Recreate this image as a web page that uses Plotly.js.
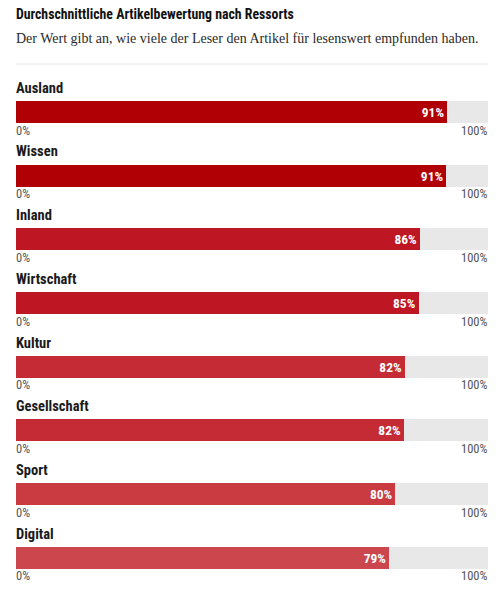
<!DOCTYPE html>
<html>
<head>
<meta charset="utf-8">
<script src="https://cdn.plot.ly/plotly-3.0.1.min.js"></script>
<style>
html,body{margin:0;padding:0;background:#fff;}
#chart{width:500px;height:599px;}
</style>
</head>
<body>
<div id="chart"></div>
<script>
const categories = ['Ausland','Wissen','Inland','Wirtschaft','Kultur','Gesellschaft','Sport','Digital'];
const values = [91.4, 91.2, 85.6, 85.3, 82.4, 82.2, 80.4, 79.1];
const barColors = ['#b10005','#b10005','#be1622','#be1622','#c52b35','#c52b35','#c93a41','#cc474d'];
const tickValues = [0, 100];
const tickLabels = ['0%', '100%'];
const maxValue = 100;

const titleText = 'Durchschnittliche Artikelbewertung nach Ressorts';
const subtitleText = 'Der Wert gibt an, wie viele der Leser den Artikel für lesenswert empfunden haben.';

const idx = categories.map((c, i) => i);
const cond = '"Roboto Condensed", "DejaVu Sans Condensed", sans-serif';
const barW = 0.345;
const py = p => (596 - p) / 516;

const track = {
  type: 'bar', orientation: 'h',
  x: categories.map(() => maxValue), y: idx,
  width: barW,
  marker: {color: '#e8e8e8', line: {width: 0}},
  hoverinfo: 'skip', showlegend: false
};
const bars = {
  type: 'bar', orientation: 'h',
  x: values, y: idx,
  width: barW,
  marker: {color: barColors, line: {width: 0}},
  text: values.map(v => Math.round(v) + '%'),
  textposition: 'inside',
  insidetextanchor: 'end',
  textangle: 0,
  insidetextfont: {family: cond, size: 13.5, color: '#ffffff', weight: 'bold'},
  hoverinfo: 'skip', showlegend: false
};

const annotations = [];
categories.forEach((c, i) => {
  annotations.push({
    x: 0, y: i - 0.37, xref: 'x', yref: 'y', xanchor: 'left', yanchor: 'middle',
    text: c, showarrow: false, xshift: -2,
    font: {family: cond, size: 14.5, color: '#1a1a1a', weight: 'bold'}
  });
  tickValues.forEach((tv, k) => {
    annotations.push({
      x: tv, y: i + 0.285, xref: 'x', yref: 'y',
      xanchor: k === 0 ? 'left' : 'right', yanchor: 'middle',
      text: tickLabels[k], showarrow: false, xshift: k === 0 ? -2 : 2,
      font: {family: cond, size: 12.5, color: '#555'}
    });
  });
});
annotations.push({
  x: 0, y: py(38), xref: 'paper', yref: 'paper', xanchor: 'left', yanchor: 'middle',
  text: subtitleText, showarrow: false, xshift: -2,
  font: {family: '"Liberation Serif", serif', size: 14, color: '#2a2a2a'}
});

const layout = {
  width: 500, height: 599,
  margin: {l: 16, r: 12, t: 80, b: 3},
  paper_bgcolor: '#fff', plot_bgcolor: '#fff',
  barmode: 'overlay',
  bargap: 0,
  title: {
    text: titleText, x: 16 / 500, xanchor: 'left', xref: 'container',
    y: 1 - 14 / 599, yanchor: 'middle', yref: 'container',
    font: {family: cond, size: 13.8, color: '#111', weight: 'bold'}
  },
  xaxis: {range: [0, maxValue], visible: false, fixedrange: true},
  yaxis: {range: [7.6, -0.5], visible: false, fixedrange: true},
  shapes: [{
    type: 'line', xref: 'paper', yref: 'paper',
    x0: 0, x1: 1, y0: py(64), y1: py(64),
    line: {color: '#e6e6e6', width: 1}
  }],
  annotations: annotations,
  showlegend: false
};

Plotly.newPlot('chart', [track, bars], layout, {displayModeBar: false, staticPlot: true});
</script>
</body>
</html>
